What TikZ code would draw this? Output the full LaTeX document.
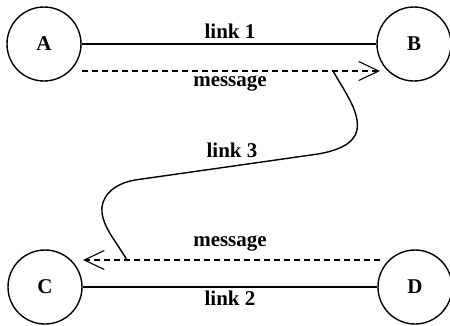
\documentclass[tikz,border=0pt]{standalone}
\usepackage{fontspec}
\setmainfont{Liberation Serif}
\usetikzlibrary{arrows.meta}
\begin{document}
\begin{tikzpicture}[x=1pt,y=-1pt,
  station/.style={draw,circle,line width=1.4pt,minimum size=74pt,inner sep=0pt,font=\fontsize{21}{24}\selectfont\bfseries},
  lbl/.style={font=\fontsize{21}{24}\selectfont\bfseries,inner sep=0pt},
  link/.style={line width=1.4pt},
  msg/.style={line width=1.1pt,dash pattern=on 6pt off 4pt,-{Straight Barb[length=20pt,width=19pt,line width=1.1pt]}}]
\useasboundingbox (0,0) rectangle (450,325);
\node[station] (A) at (44,44) {A};
\node[station] (B) at (414,44) {B};
\node[station] (C) at (45,287) {C};
\node[station] (D) at (415,287) {D};
\draw[link] (A) -- (B);
\draw[link] (C) -- (D);
\node[lbl] (l1) at (230,31) {link 1};
\node[lbl] (l2) at (230,298) {link 2};
\node[lbl] (l3) at (232,150) {link 3};
\coordinate (m1s) at (82,71);
\coordinate (m1e) at (380,71);
\coordinate (m2s) at (380,260);
\coordinate (m2e) at (83,260);
\coordinate (k1) at (333,71);
\coordinate (k2) at (127,260);
\draw[msg] (m1s) -- (m1e);
\draw[msg] (m2s) -- (m2e);
\node[lbl] (t1) at (230,83) {message};
\node[lbl] (t2) at (230,243) {message};
\draw[link] (k1) .. controls (345,92) and (360,112) .. (357,130)
  .. controls (354,145) and (335,151) .. (318,154)
  -- (135,180)
  .. controls (112,184) and (100,198) .. (102,213)
  .. controls (104,228) and (115,240) .. (k2);
\end{tikzpicture}
\end{document}
